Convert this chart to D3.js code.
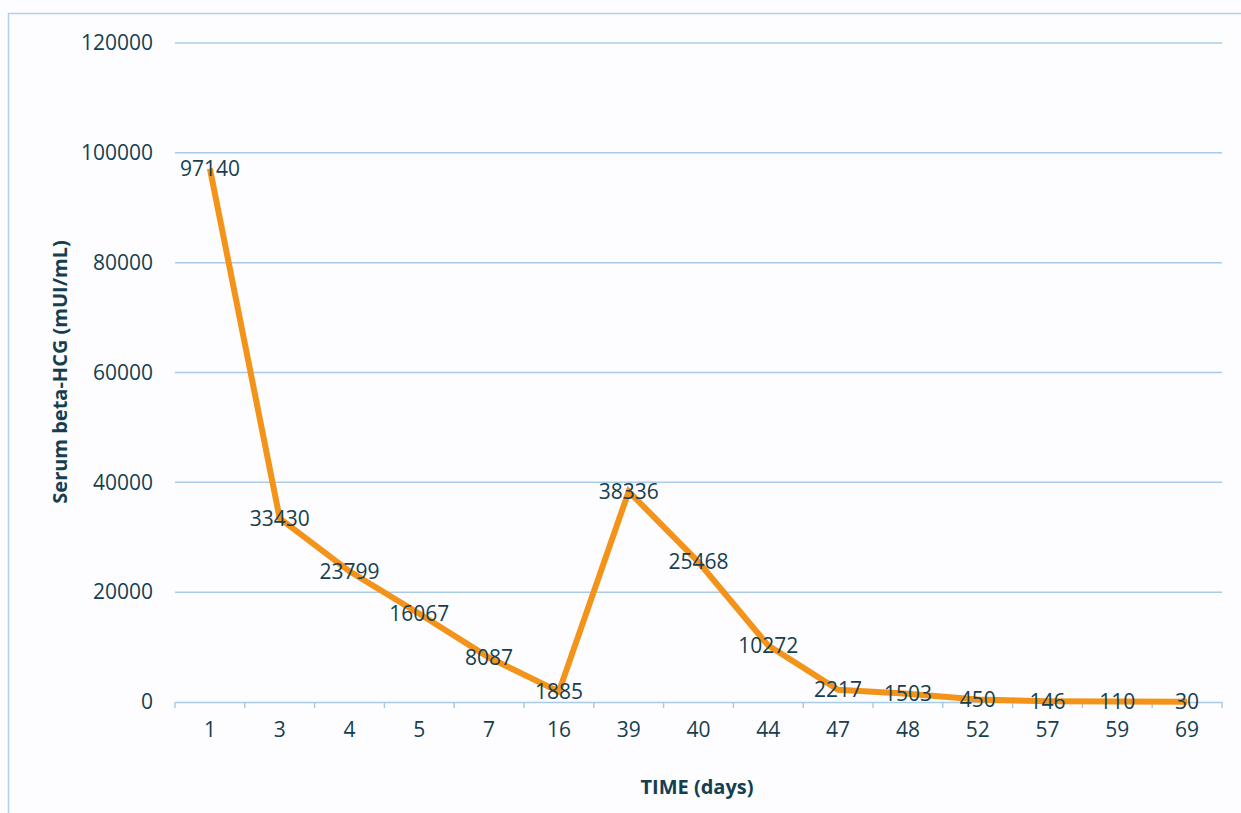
<!DOCTYPE html>
<html><head><meta charset="utf-8">
<script src="https://cdn.jsdelivr.net/npm/d3@7"></script>
<style>
html,body{margin:0;padding:0;background:#fdfdff;}
svg{display:block;font-family:"Open Sans",sans-serif;}
</style></head><body>
<svg id="c" width="1241" height="813"></svg>
<script>
const days = ["1","3","4","5","7","16","39","40","44","47","48","52","57","59","69"];
const hcg = [97140,33430,23799,16067,8087,1885,38336,25468,10272,2217,1503,450,146,110,30];
const yTicks = [0,20000,40000,60000,80000,100000,120000];
const yTitle = "Serum beta-HCG (mUI/mL)";
const xTitle = "TIME (days)";

const svg = d3.select("#c");
const W = 1241, H = 813;
const m = {left:175, right:1222, top:43, bottom:702};
const textCol = "#153f4f";
const gridCol = "#a9cbe6";

svg.append("rect").attr("x",8.5).attr("y",13.5).attr("width",W).attr("height",H)
  .attr("fill","#fdfdff").attr("stroke","#b3d0ea").attr("stroke-width",1.5);

const x = d3.scaleBand().domain(days).range([m.left,m.right]);
const y = d3.scaleLinear().domain([0,120000]).range([m.bottom,m.top]);

// grid
svg.append("g").selectAll("line").data(yTicks.filter(d=>d>0)).join("line")
  .attr("x1",m.left).attr("x2",m.right)
  .attr("y1",d=>y(d)).attr("y2",d=>y(d))
  .attr("stroke",gridCol).attr("stroke-width",1.5);

// y axis labels
const yAx = svg.append("g").attr("transform",`translate(${m.left},0)`)
  .call(d3.axisLeft(y).tickValues(yTicks).tickSize(0).tickPadding(22).tickFormat(d3.format("d")));
yAx.select(".domain").remove();
yAx.selectAll("text").attr("font-size",21).attr("fill",textCol).attr("font-family","Open Sans");

// x axis
const xAx = svg.append("g").attr("transform",`translate(0,${m.bottom})`)
  .call(d3.axisBottom(x).tickSize(0).tickPadding(20));
xAx.select(".domain").attr("stroke",gridCol).attr("stroke-width",1.5);
xAx.selectAll("text").attr("font-size",21).attr("fill",textCol).attr("font-family","Open Sans");
// tick marks at band boundaries
const bounds = days.map(d=>x(d)).concat([m.right]);
svg.append("g").selectAll("line").data(bounds).join("line")
  .attr("x1",d=>d).attr("x2",d=>d).attr("y1",m.bottom).attr("y2",m.bottom+6)
  .attr("stroke",gridCol).attr("stroke-width",1.5);

// line
const line = d3.line().x((d,i)=>x(days[i])+x.bandwidth()/2).y(d=>y(d));
svg.append("path").datum(hcg).attr("d",line).attr("fill","none")
  .attr("stroke","#f39319").attr("stroke-width",6).attr("stroke-linejoin","miter");

// data labels
svg.append("g").selectAll("text").data(hcg).join("text")
  .attr("x",(d,i)=>x(days[i])+x.bandwidth()/2)
  .attr("y",d=>y(d)).attr("dy","0.35em")
  .attr("text-anchor","middle").attr("font-size",21).attr("fill",textCol)
  .text(d=>d);

// titles
svg.append("text").attr("transform",`translate(67,372) rotate(-90)`)
  .attr("text-anchor","middle").attr("font-size",20).attr("font-weight","bold")
  .attr("fill",textCol).text(yTitle);
svg.append("text").attr("x",697).attr("y",794)
  .attr("text-anchor","middle").attr("font-size",20).attr("font-weight","bold")
  .attr("fill",textCol).text(xTitle);
</script>
</body></html>
